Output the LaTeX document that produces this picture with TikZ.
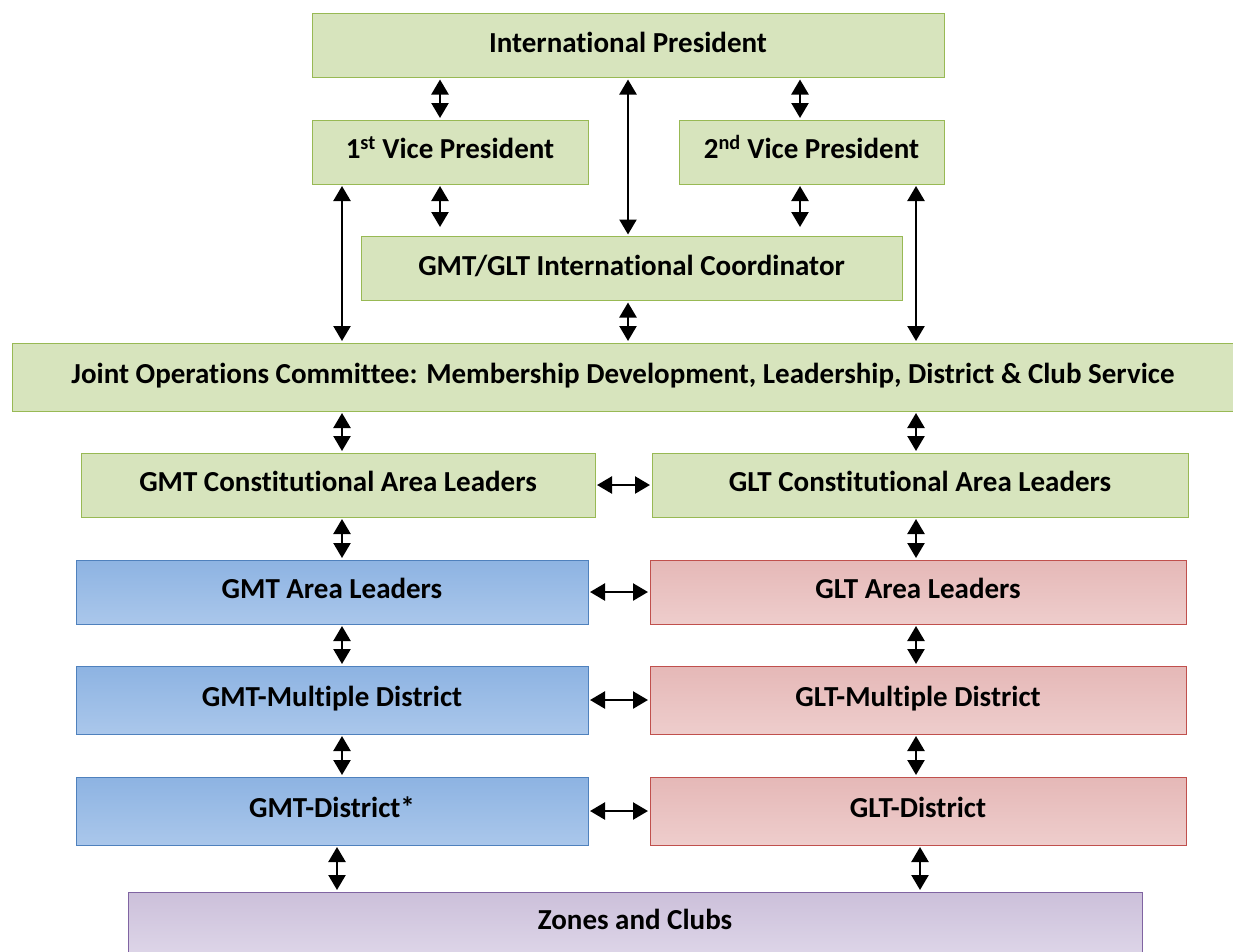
\documentclass[tikz,border=0pt]{standalone}
\usepackage{fontspec}
\setmainfont{Carlito}[Ligatures=NoCommon]
\usepackage{tikz}
\usetikzlibrary{arrows.meta}
\usepackage{xcolor}

\definecolor{boxgreen}{HTML}{D7E4BD}
\definecolor{edgegreen}{HTML}{98B954}
\definecolor{bluetop}{HTML}{8DB3E2}
\definecolor{bluebot}{HTML}{AAC7EB}
\definecolor{edgeblue}{HTML}{4F81BD}
\definecolor{redtop}{HTML}{E5B8B7}
\definecolor{redbot}{HTML}{EECDCC}
\definecolor{edgered}{HTML}{C0504D}
\definecolor{purptop}{HTML}{CCC0DA}
\definecolor{purpbot}{HTML}{DDD5E8}
\definecolor{edgepurp}{HTML}{8064A2}

\begin{document}
\begin{tikzpicture}[x=1pt, y=-1pt]

        % 1. Picture limits (pixel-like units, y going down)
        \useasboundingbox (0,0) rectangle (1233,951);

        \tikzset{
            box/.style={rectangle, minimum height=64pt, inner sep=0pt, text height=22pt, text depth=9pt,
                font=\bfseries\fontsize{29}{34}\selectfont, line width=1pt},
            greenbox/.style={box, fill=boxgreen, draw=edgegreen},
            bluebox/.style={box, top color=bluetop, bottom color=bluebot, draw=edgeblue},
            redbox/.style={box, top color=redtop, bottom color=redbot, draw=edgered},
            purpbox/.style={box, top color=purptop, bottom color=purpbot, draw=edgepurp},
            link/.style={line width=2.4pt, {Triangle[width=17pt,length=15pt]}-{Triangle[width=17pt,length=15pt]},
                shorten <=1.5pt, shorten >=1.5pt}
        }

        % 2. Columns used by the vertical arrows
        \coordinate (colA) at (342,0);
        \coordinate (colB) at (440,0);
        \coordinate (colC) at (628,0);
        \coordinate (colD) at (800,0);
        \coordinate (colE) at (916,0);
        \coordinate (colF) at (337,0);
        \coordinate (colG) at (920,0);

        % 3. Top levels (green)
        \node[greenbox, minimum width=632pt] (ip) at (628,45.5) {International President};
        \node[greenbox, minimum width=276pt] (vp1) at (450,152) {1\textsuperscript{st} Vice President};
        \node[greenbox, minimum width=265pt] (vp2) at (811.5,152) {2\textsuperscript{nd} Vice President};
        \node[greenbox, minimum width=541pt] (coord) at (631.5,268.5) {GMT/GLT International Coordinator};
        \node[greenbox, minimum width=1222pt, minimum height=68pt] (joc) at (623,377)
            {Joint Operations Committee: Membership Development, Leadership, District \& Club Service};
        \node[greenbox, minimum width=514pt] (gmtcal) at (338,485) {GMT Constitutional Area Leaders};
        \node[greenbox, minimum width=536pt] (gltcal) at (920,485) {GLT Constitutional Area Leaders};

        % 4. GMT side (blue) and GLT side (red)
        \node[bluebox, minimum width=512pt] (gmtal) at (332,592) {GMT Area Leaders};
        \node[redbox, minimum width=536pt] (gltal) at (918,592) {GLT Area Leaders};
        \node[bluebox, minimum width=512pt, minimum height=68pt] (gmtmd) at (332,700) {GMT-Multiple District};
        \node[redbox, minimum width=536pt, minimum height=68pt] (gltmd) at (918,700) {GLT-Multiple District};
        \node[bluebox, minimum width=512pt, minimum height=68pt] (gmtd) at (332,811) {GMT-District*};
        \node[redbox, minimum width=536pt, minimum height=68pt] (gltd) at (918,811) {GLT-District};

        % 5. Bottom level (purple)
        \node[purpbox, minimum width=1014pt, minimum height=62pt] (zones) at (635,923) {Zones and Clubs};

        % 6. Vertical arrows
        \draw[link] (ip.south -| colB) -- (vp1.north -| colB);
        \draw[link] (ip.south -| colD) -- (vp2.north -| colD);
        \draw[link] (ip.south -| colC) -- (coord.north -| colC);
        \draw[link, shorten >=9pt] (vp1.south -| colB) -- (coord.north -| colB);
        \draw[link, shorten >=9pt] (vp2.south -| colD) -- (coord.north -| colD);
        \draw[link] (vp1.south -| colA) -- (joc.north -| colA);
        \draw[link] (vp2.south -| colE) -- (joc.north -| colE);
        \draw[link] (coord.south -| colC) -- (joc.north -| colC);
        \draw[link] (joc.south -| colA) -- (gmtcal.north -| colA);
        \draw[link] (joc.south -| colE) -- (gltcal.north -| colE);
        \draw[link] (gmtcal.south -| colA) -- (gmtal.north -| colA);
        \draw[link] (gltcal.south -| colE) -- (gltal.north -| colE);
        \draw[link] (gmtal.south -| colA) -- (gmtmd.north -| colA);
        \draw[link] (gltal.south -| colE) -- (gltmd.north -| colE);
        \draw[link] (gmtmd.south -| colA) -- (gmtd.north -| colA);
        \draw[link] (gltmd.south -| colE) -- (gltd.north -| colE);
        \draw[link] (gmtd.south -| colF) -- (zones.north -| colF);
        \draw[link] (gltd.south -| colG) -- (zones.north -| colG);

        % 7. Horizontal arrows between the two sides
        \draw[link] (gmtcal.east) -- (gltcal.west);
        \draw[link] (gmtal.east) -- (gltal.west);
        \draw[link] (gmtmd.east) -- (gltmd.west);
        \draw[link] (gmtd.east) -- (gltd.west);

    \end{tikzpicture}
\end{document}
